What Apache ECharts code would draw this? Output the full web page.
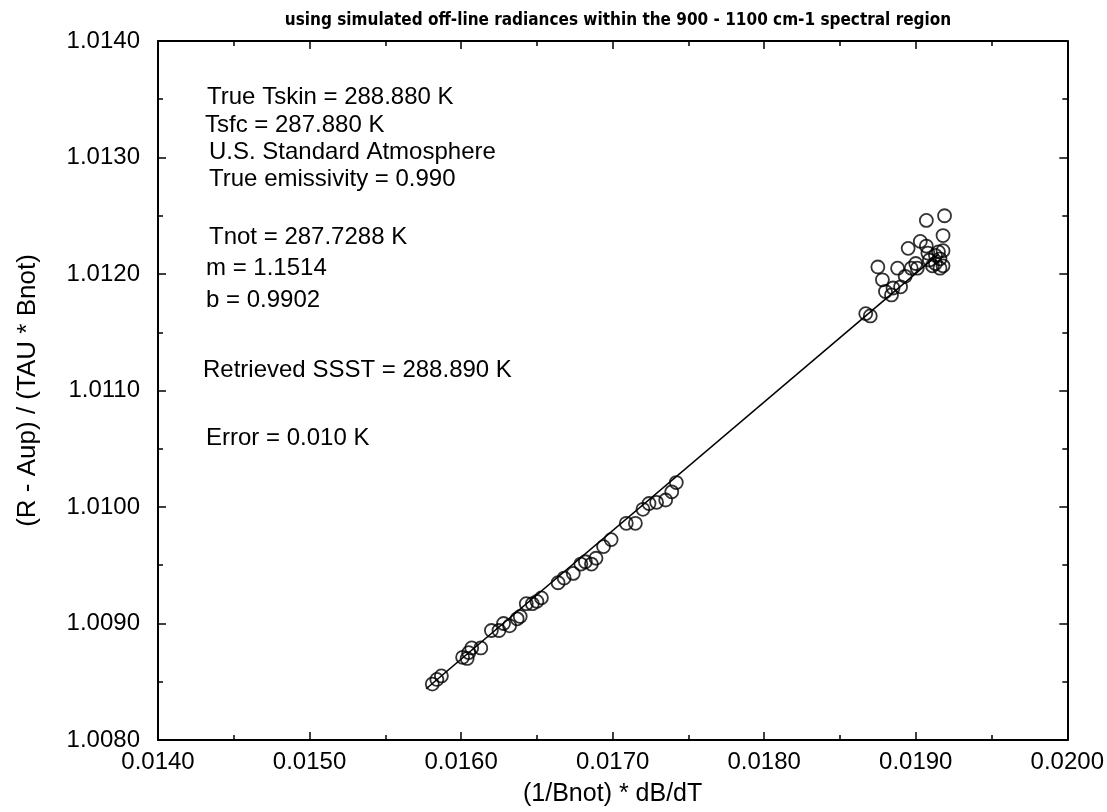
<!DOCTYPE html>
<html>
<head>
<meta charset="utf-8">
<script src="https://cdn.jsdelivr.net/npm/echarts@6/dist/echarts.min.js"></script>
<style>
  html, body { margin: 0; padding: 0; background: #ffffff; }
  #chart { width: 1107px; height: 812px; }
</style>
</head>
<body>
<div id="chart"></div>
<script>
// ---- data ----
const xValues = [
  0.01581, 0.01584, 0.01587, 0.01601, 0.01604, 0.01605, 0.01607, 0.01613,
  0.01620, 0.01625, 0.01628, 0.01632, 0.01637, 0.01639, 0.01643, 0.01647,
  0.01650, 0.01653, 0.01664, 0.01668, 0.01674, 0.01679, 0.01682, 0.01686,
  0.01689, 0.01694, 0.01699, 0.01709, 0.01715, 0.01720, 0.01724, 0.01729,
  0.01735, 0.01739, 0.01742,
  0.01867, 0.01870, 0.01875, 0.01878, 0.01880, 0.01884, 0.01885, 0.01890,
  0.01888, 0.01893, 0.01895, 0.01897, 0.01900, 0.01901, 0.01903, 0.01907,
  0.01907, 0.01908, 0.01909, 0.01911, 0.01913, 0.01913, 0.01915, 0.01916,
  0.01918, 0.01918, 0.01919, 0.01918, 0.01916
];
const yValues = [
  1.00848, 1.00852, 1.00855, 1.00871, 1.00870, 1.00875, 1.00879, 1.00879,
  1.00894, 1.00894, 1.00900, 1.00898, 1.00904, 1.00906, 1.00917, 1.00917,
  1.00919, 1.00922, 1.00935, 1.00939, 1.00943, 1.00951, 1.00953, 1.00951,
  1.00956, 1.00966, 1.00972, 1.00986, 1.00986, 1.00998, 1.01003, 1.01004,
  1.01006, 1.01013, 1.01021,
  1.01166, 1.01164, 1.01206, 1.01195, 1.01185, 1.01182, 1.01188, 1.01189,
  1.01205, 1.01198, 1.01222, 1.01205, 1.01209, 1.01205, 1.01228, 1.01246,
  1.01224, 1.01218, 1.01212, 1.01207, 1.01216, 1.01209, 1.01219, 1.01213,
  1.01220, 1.01233, 1.01250, 1.01207, 1.01205
];
// regression line end points
const fitX = [0.01577, 0.01915];
const fitY = [1.00844, 1.01217];

const chartTitle = 'using simulated off-line radiances within the 900 - 1100 cm-1 spectral region';
const xAxisName = '(1/Bnot) * dB/dT';
const yAxisName = '(R - Aup) / (TAU * Bnot)';
const annotations = [
  'True Tskin = 288.880 K',
  'Tsfc = 287.880 K',
  'U.S. Standard Atmosphere',
  'True emissivity = 0.990',
  'Tnot = 287.7288 K',
  'm = 1.1514',
  'b = 0.9902',
  'Retrieved SSST = 288.890 K',
  'Error = 0.010 K'
];
const xMin = 0.014, xMax = 0.020, xStep = 0.001;
const yMin = 1.008, yMax = 1.014, yStep = 0.001;

// ---- chart ----
const points = xValues.map((x, i) => [x, yValues[i]]);
const fitLine = fitX.map((x, i) => [x, fitY[i]]);

const FONT = '"Liberation Sans", Arial, Helvetica, sans-serif';
const annX = [207, 205, 209, 209, 209, 206, 206, 203, 206];
const annY = [97, 125, 152, 179, 237, 268, 300, 370, 438];

function axisCommon(showLabel) {
  return {
    type: 'value',
    axisLine: { show: true, lineStyle: { color: '#000', width: 2 } },
    axisTick: { show: true, inside: true, length: 8, lineStyle: { color: '#000', width: 1.5 } },
    minorTick: { show: true, splitNumber: 2, length: 5, lineStyle: { color: '#000', width: 1.5 } },
    splitLine: { show: false },
    minorSplitLine: { show: false },
    axisLabel: {
      show: showLabel,
      color: '#000',
      fontFamily: FONT,
      fontSize: 24,
      formatter: v => v.toFixed(4)
    }
  };
}

const xBottom = Object.assign(axisCommon(true), {
  position: 'bottom', min: xMin, max: xMax, interval: xStep,
  name: xAxisName, nameLocation: 'middle', nameGap: 42,
  nameTextStyle: { color: '#000', fontFamily: FONT, fontSize: 25 }
});
xBottom.axisLabel.margin = 10;
xBottom.axisLabel.showMinLabel = true;
xBottom.axisLabel.showMaxLabel = true;
const xTop = Object.assign(axisCommon(false), {
  position: 'top', min: xMin, max: xMax, interval: xStep
});
const yLeft = Object.assign(axisCommon(true), {
  position: 'left', min: yMin, max: yMax, interval: yStep,
  name: yAxisName, nameLocation: 'middle', nameGap: 117,
  nameTextStyle: { color: '#000', fontFamily: FONT, fontSize: 26 }
});
yLeft.axisLabel.margin = 18;
const yRight = Object.assign(axisCommon(false), {
  position: 'right', min: yMin, max: yMax, interval: yStep
});

const chart = echarts.init(document.getElementById('chart'), null, { renderer: 'canvas' });
chart.setOption({
  backgroundColor: '#ffffff',
  animation: false,
  grid: { left: 158, top: 41, width: 912, height: 704, containLabel: false },
  xAxis: [xBottom, xTop],
  yAxis: [yLeft, yRight],
  series: [
    {
      type: 'line',
      data: fitLine,
      showSymbol: false,
      symbol: 'none',
      lineStyle: { color: '#000', width: 1.6 },
      z: 2
    },
    {
      type: 'scatter',
      data: points,
      symbol: 'circle',
      symbolSize: 13,
      itemStyle: { color: 'rgba(0,0,0,0)', borderColor: '#000', borderWidth: 1.8 },
      z: 3
    }
  ],
  graphic: [
    {
      type: 'text', x: 618, y: 21,
      style: {
        text: chartTitle, x: 0, y: 0, align: 'center', verticalAlign: 'middle',
        fill: '#000', font: 'bold 17px "Liberation Sans Narrow", "DejaVu Sans Condensed", "Liberation Sans", sans-serif'
      }
    }
  ].concat(annotations.map((t, i) => ({
    type: 'text', x: annX[i], y: annY[i],
    style: {
      text: t, x: 0, y: 0, align: 'left', verticalAlign: 'middle',
      fill: '#000', font: '24px ' + FONT
    }
  })))
});
</script>
</body>
</html>
